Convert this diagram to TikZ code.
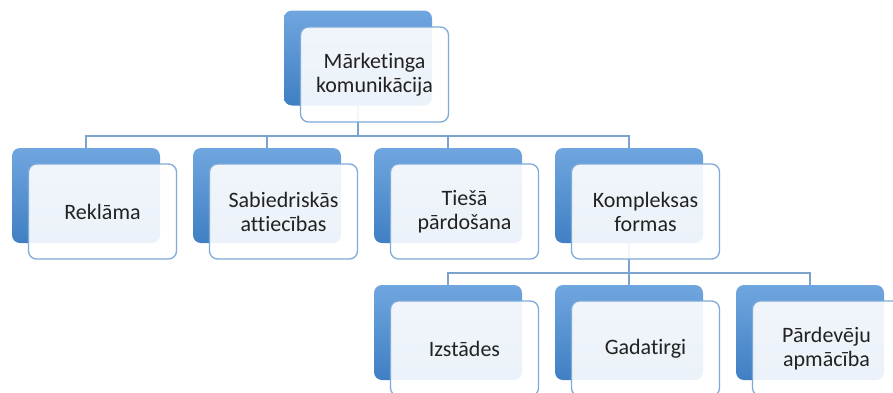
\documentclass[tikz,border=0pt]{standalone}
\usepackage{fontspec}
\setmainfont{Carlito}[Ligatures=NoCommon]
\definecolor{bluetop}{HTML}{70A6DF}
\definecolor{bluebot}{HTML}{3F7FC3}
\definecolor{frontline}{HTML}{7EAAD9}
\definecolor{linecol}{HTML}{7CA2CE}
\definecolor{textgray}{HTML}{222222}
\tikzset{
  backbox/.style={rectangle, rounded corners=8pt, minimum width=148pt, minimum height=95pt, inner sep=0pt, top color=bluetop, bottom color=bluebot, draw=none},
  frontbox/.style={rectangle, rounded corners=8pt, minimum width=148pt, minimum height=95pt, inner sep=2pt, fill=white, fill opacity=0.9, text opacity=1, draw=frontline, draw opacity=1, line width=1.3pt, text width=136pt, align=center, font=\fontsize{22}{24}\selectfont, text=textgray},
  conn/.style={draw=linecol, line width=1.5pt}
}
\begin{document}
\begin{tikzpicture}[x=1pt,y=-1pt]
\useasboundingbox (0,0) rectangle (893,392);
\clip (0,0) rectangle (893,392);
% back boxes
\node[backbox] (b0) at (358,58) {};
\node[backbox] (b1) at (86,195.5) {};
\node[backbox] (b2) at (267,195.5) {};
\node[backbox] (b3) at (448,195.5) {};
\node[backbox] (b4) at (629,195.5) {};
\node[backbox] (b5) at (448,332.5) {};
\node[backbox] (b6) at (629,332.5) {};
\node[backbox] (b7) at (810,332.5) {};
% bus coordinates
\coordinate (busA) at (358,136);
\coordinate (busB) at (629,273);
% connectors
\foreach \c in {b1,b2,b3,b4}{
  \draw[conn] (b0.south) -- (b0.south |- busA) -| (\c.north);
}
\foreach \c in {b5,b6,b7}{
  \draw[conn] (b4.south) -- (b4.south |- busB) -| (\c.north);
}
% front boxes
\node[frontbox] (f0) at (374.5,74.5) {Mārketinga\\komunikācija};
\node[frontbox] (f1) at (102.5,211.5) {Reklāma};
\node[frontbox] (f2) at (283.5,211.5) {Sabiedriskās\\attiecības};
\node[frontbox] (f3) at (464.5,211.5) {Tiešā\\pārdošana};
\node[frontbox] (f4) at (645.5,211.5) {Kompleksas\\formas};
\node[frontbox] (f5) at (464.5,348.5) {Izstādes};
\node[frontbox] (f6) at (645.5,348.5) {Gadatirgi};
\node[frontbox] (f7) at (826.5,348.5) {Pārdevēju\\apmācība};
\end{tikzpicture}
\end{document}
